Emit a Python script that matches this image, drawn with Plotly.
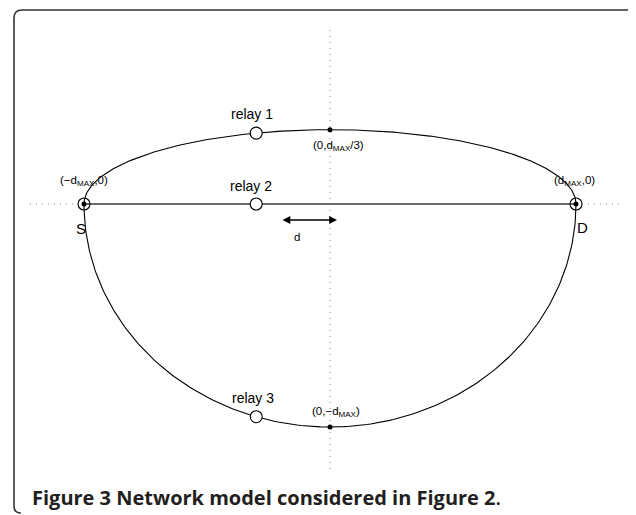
import numpy as np
import plotly.graph_objects as go

PAGE_W, PAGE_H = 636, 515
OFF = 8                      # default page body margin
W, H = PAGE_W - OFF, PAGE_H - OFF

# ---- data (in units of d_MAX) ----
d_max = 1.0
upper_semi_axis = 1.0 / 3.0      # (0, d_MAX/3)
lower_semi_axis = 1.0            # (0, -d_MAX)
endpoint_x = [-1.0, 1.0]         # S, D
endpoint_y = [0.0, 0.0]
endpoint_names = ["S", "D"]
apex_x = [0.0, 0.0]
apex_y = [1.0 / 3.0, -1.0]
relay_names = ["relay 1", "relay 2", "relay 3"]
relay_x = [-0.30, -0.30, -0.30]
relay_y = [0.318, 0.0, -0.954]
coord_labels = ["(−d<sub>MAX</sub>,0)", "(d<sub>MAX</sub>,0)",
                "(0,d<sub>MAX</sub>/3)", "(0,−d<sub>MAX</sub>)"]
caption = "<b>Figure 3 Network model considered in Figure 2</b>."

# pixel scale of the drawing (page coordinates)
cx_px, cy_px = 330, 204
sx, sy = 246, 223
xr = [-(cx_px - OFF) / sx, (PAGE_W - cx_px) / sx]
yr = [(cy_px - PAGE_H) / sy, (cy_px - OFF) / sy]

def px(xp, yp):
    return (xp - cx_px) / sx, (cy_px - yp) / sy

def paper(xp, yp):
    return (xp - OFF) / W, 1 - (yp - OFF) / H

fig = go.Figure()

# dotted axes
hx0, _ = px(30, 0); hx1, _ = px(622, 0)
_, vy0 = px(0, 30); _, vy1 = px(0, 470)
dot = dict(color="#888", width=1, dash="1px,5px")
fig.add_trace(go.Scatter(x=[hx0, hx1], y=[0, 0], mode="lines", line=dot, hoverinfo="skip"))
fig.add_trace(go.Scatter(x=[0, 0], y=[vy0, vy1], mode="lines", line=dot, hoverinfo="skip"))

# S-D line
fig.add_trace(go.Scatter(x=endpoint_x, y=endpoint_y, mode="lines",
                         line=dict(color="#6a6a6a", width=1.8), hoverinfo="skip"))

# ellipse halves
t = np.linspace(0, np.pi, 200)
fig.add_trace(go.Scatter(x=d_max * np.cos(t), y=upper_semi_axis * np.sin(t), mode="lines",
                         line=dict(color="black", width=1.1), hoverinfo="skip"))
fig.add_trace(go.Scatter(x=d_max * np.cos(t), y=-lower_semi_axis * np.sin(t), mode="lines",
                         line=dict(color="black", width=1.1), hoverinfo="skip"))

# relay circles
fig.add_trace(go.Scatter(x=relay_x, y=relay_y, mode="markers",
                         marker=dict(size=12, color="white", line=dict(color="black", width=1.1)),
                         hoverinfo="skip"))
# S, D circled dots
fig.add_trace(go.Scatter(x=endpoint_x, y=endpoint_y, mode="markers",
                         marker=dict(size=12, color="rgba(0,0,0,0)", line=dict(color="black", width=1.1)),
                         hoverinfo="skip"))
fig.add_trace(go.Scatter(x=endpoint_x + apex_x, y=endpoint_y + apex_y, mode="markers",
                         marker=dict(size=5, color="black"), hoverinfo="skip"))

ann = []
fam = "Liberation Sans, Arial"
lf = dict(family=fam, size=14, color="black")
sf = dict(family=fam, size=11.5, color="black")
for name, (xp, yp) in zip(relay_names, [(252, 114), (251, 186), (253, 398)]):
    x, y = px(xp, yp)
    ann.append(dict(x=x, y=y, text=name, showarrow=False, font=lf))
for name, (xp, yp) in zip(endpoint_names, [(81, 228), (582, 227)]):
    x, y = px(xp, yp)
    ann.append(dict(x=x, y=y, text=name, showarrow=False, font=dict(family=fam, size=15, color="black")))
for lab, (xp, yp) in zip(coord_labels, [(84, 181), (574, 181), (338, 146), (336, 412)]):
    x, y = px(xp, yp)
    ann.append(dict(x=x, y=y, text=lab, showarrow=False, font=sf))
x, y = px(297, 237)
ann.append(dict(x=x, y=y, text="d", showarrow=False, font=sf))
ax0, ay0 = px(281, 220); ax1, _ = px(337, 220)
ann.append(dict(x=ax1, y=ay0, ax=ax0, ay=ay0, axref="x", ayref="y", xref="x", yref="y",
                text="", showarrow=True, arrowhead=2, startarrowhead=2, arrowside="end+start",
                arrowsize=1.2, arrowwidth=1.3, arrowcolor="black"))
cxp, cyp = paper(30, 497)
ann.append(dict(x=cxp, y=cyp, xref="paper", yref="paper", xanchor="left", yanchor="middle",
                showarrow=False, text=caption,
                font=dict(family="Open Sans", size=20, color="#231f20", weight=600)))

def P(xp, yp):
    a, b = paper(xp, yp)
    return f"{a:.5f},{b:.5f}"
path = (f"M {P(21,513)} Q {P(14,513)} {P(14,506)} L {P(14,18)} Q {P(14,10)} {P(22,10)} "
        f"L {P(630,10)} Q {P(638,10)} {P(638,18)}")
shapes = [dict(type="path", path=path, xref="paper", yref="paper",
               line=dict(color="#333", width=1.6))]

fig.update_layout(
    width=W, height=H, margin=dict(l=0, r=0, t=0, b=0),
    paper_bgcolor="white", plot_bgcolor="white", showlegend=False,
    xaxis=dict(range=xr, visible=False, fixedrange=True),
    yaxis=dict(range=yr, visible=False, fixedrange=True),
    annotations=ann, shapes=shapes,
)
fig.write_html("out.html", config={"displayModeBar": False})
